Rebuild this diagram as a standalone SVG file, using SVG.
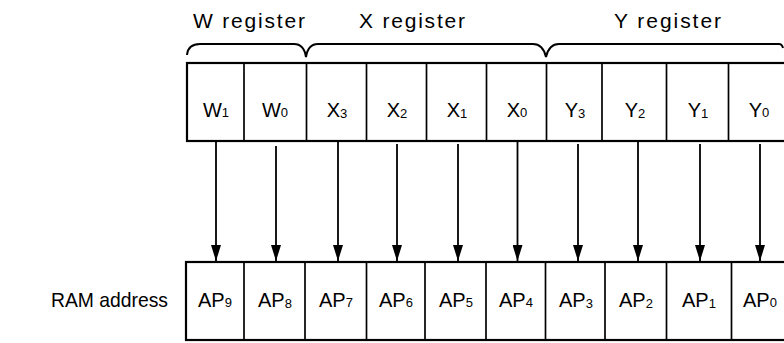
<svg xmlns="http://www.w3.org/2000/svg" width="784" height="343" viewBox="0 0 784 343">
<defs>
<style>
.t{font-family:"Liberation Sans",Arial,sans-serif;fill:#000;}
.lbl{font-size:21px;}
.cell{font-size:20px;text-anchor:middle;}
.sub{font-size:13px;}
.box{fill:#fff;stroke:#000;stroke-width:2.2;}
.div{stroke:#000;stroke-width:1.7;}
.conn{stroke:#000;stroke-width:1.8;fill:none;marker-end:url(#ah);}
.brace{stroke:#000;stroke-width:2;fill:none;}
</style>
<marker id="ah" markerWidth="16" markerHeight="10" refX="16" refY="5" orient="auto" markerUnits="userSpaceOnUse" viewBox="0 0 16 10">
<path d="M0,0 L16,5 L0,10 z" fill="#000"/>
</marker>
</defs>
<rect width="784" height="343" fill="#fff"/>

<g id="braces">
<path class="brace" d="M187,55 Q188,44 200,44 L294,44 Q304,44 306,57 Q308,44 318,44 L533,44 Q543,44 546,57 Q549,44 559,44 L779,44 Q782,44 783,48"/>
<text class="t lbl" x="193" y="28" textLength="112" lengthAdjust="spacing">W register</text>
<text class="t lbl" x="359" y="28" textLength="106" lengthAdjust="spacing">X register</text>
<text class="t lbl" x="614" y="28" textLength="107" lengthAdjust="spacing">Y register</text>
</g>

<g id="registers">
<rect class="box" x="187" y="63" width="610" height="78"/>
<g id="dividers-top">
<line class="div" x1="244" y1="63" x2="244" y2="141"/>
<line class="div" x1="306.5" y1="63" x2="306.5" y2="141"/>
<line class="div" x1="366.5" y1="63" x2="366.5" y2="141"/>
<line class="div" x1="426.5" y1="63" x2="426.5" y2="141"/>
<line class="div" x1="486.5" y1="63" x2="486.5" y2="141"/>
<line class="div" x1="546.5" y1="63" x2="546.5" y2="141"/>
<line class="div" x1="602" y1="63" x2="602" y2="141"/>
<line class="div" x1="666.5" y1="63" x2="666.5" y2="141"/>
<line class="div" x1="728.5" y1="63" x2="728.5" y2="141"/>
</g>
<g id="W1"><text class="t cell" x="216" y="117">W<tspan class="sub">1</tspan></text></g>
<g id="W0"><text class="t cell" x="275" y="117">W<tspan class="sub">0</tspan></text></g>
<g id="X3"><text class="t cell" x="337" y="117">X<tspan class="sub" dy="1">3</tspan></text></g>
<g id="X2"><text class="t cell" x="397" y="117">X<tspan class="sub" dy="1">2</tspan></text></g>
<g id="X1"><text class="t cell" x="457" y="117">X<tspan class="sub" dy="1">1</tspan></text></g>
<g id="X0"><text class="t cell" x="517" y="117">X<tspan class="sub">0</tspan></text></g>
<g id="Y3"><text class="t cell" x="575" y="117">Y<tspan class="sub" dy="1">3</tspan></text></g>
<g id="Y2"><text class="t cell" x="635" y="117">Y<tspan class="sub" dy="1">2</tspan></text></g>
<g id="Y1"><text class="t cell" x="698" y="117">Y<tspan class="sub" dy="1">1</tspan></text></g>
<g id="Y0"><text class="t cell" x="759" y="117">Y<tspan class="sub">0</tspan></text></g>
</g>

<g id="connectors">
<line class="conn" x1="216" y1="142" x2="216" y2="261"/>
<line class="conn" x1="276" y1="146" x2="276" y2="261"/>
<line class="conn" x1="338" y1="142" x2="338" y2="261"/>
<line class="conn" x1="397" y1="144" x2="397" y2="261"/>
<line class="conn" x1="458" y1="144" x2="458" y2="261"/>
<line class="conn" x1="517.5" y1="142" x2="517.5" y2="261"/>
<line class="conn" x1="578" y1="144" x2="578" y2="261"/>
<line class="conn" x1="638" y1="142" x2="638" y2="261"/>
<line class="conn" x1="700" y1="144" x2="700" y2="261"/>
<line class="conn" x1="760" y1="144" x2="760" y2="261"/>
</g>

<g id="ram">
<text class="t lbl" x="51" y="307" textLength="117" lengthAdjust="spacingAndGlyphs">RAM address</text>
<rect class="box" x="186" y="262" width="610" height="78"/>
<g id="dividers-bottom">
<line class="div" x1="244" y1="262" x2="244" y2="340"/>
<line class="div" x1="305" y1="262" x2="305" y2="340"/>
<line class="div" x1="366.5" y1="262" x2="366.5" y2="340"/>
<line class="div" x1="425" y1="262" x2="425" y2="340"/>
<line class="div" x1="486" y1="262" x2="486" y2="340"/>
<line class="div" x1="545.5" y1="262" x2="545.5" y2="340"/>
<line class="div" x1="605" y1="262" x2="605" y2="340"/>
<line class="div" x1="666.5" y1="262" x2="666.5" y2="340"/>
<line class="div" x1="731.5" y1="262" x2="731.5" y2="340"/>
</g>
<g id="AP9"><text class="t cell" x="215" y="307">AP<tspan class="sub">9</tspan></text></g>
<g id="AP8"><text class="t cell" x="275" y="307">AP<tspan class="sub" dy="1">8</tspan></text></g>
<g id="AP7"><text class="t cell" x="336" y="307">AP<tspan class="sub">7</tspan></text></g>
<g id="AP6"><text class="t cell" x="396" y="307">AP<tspan class="sub">6</tspan></text></g>
<g id="AP5"><text class="t cell" x="456" y="307">AP<tspan class="sub">5</tspan></text></g>
<g id="AP4"><text class="t cell" x="516" y="307">AP<tspan class="sub">4</tspan></text></g>
<g id="AP3"><text class="t cell" x="576" y="307">AP<tspan class="sub" dy="1">3</tspan></text></g>
<g id="AP2"><text class="t cell" x="636" y="307">AP<tspan class="sub" dy="1">2</tspan></text></g>
<g id="AP1"><text class="t cell" x="699" y="307">AP<tspan class="sub" dy="1">1</tspan></text></g>
<g id="AP0"><text class="t cell" x="760" y="307">AP<tspan class="sub">0</tspan></text></g>
</g>
</svg>
